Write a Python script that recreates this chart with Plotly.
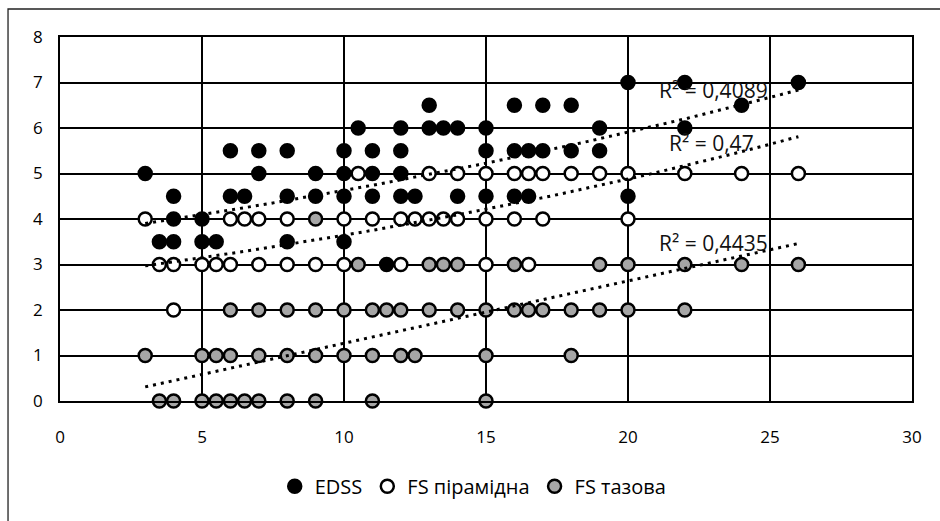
import numpy as np
import plotly.graph_objects as go

# ---- data ----
edss_x = [20, 22, 26,
          13, 16, 17, 18, 24,
          10.5, 12, 13, 13.5, 14, 15, 19, 22,
          6, 7, 8, 10, 11, 12, 15, 16, 16.5, 17, 18, 19,
          3, 7, 9, 10, 11, 12,
          4, 6, 6.5, 8, 9, 10, 11, 12, 12.5, 14, 15, 16, 16.5, 20,
          4, 5,
          3.5, 4, 5, 5.5, 8, 10,
          11.5]
edss_y = [7, 7, 7,
          6.5, 6.5, 6.5, 6.5, 6.5,
          6, 6, 6, 6, 6, 6, 6, 6,
          5.5, 5.5, 5.5, 5.5, 5.5, 5.5, 5.5, 5.5, 5.5, 5.5, 5.5, 5.5,
          5, 5, 5, 5, 5, 5,
          4.5, 4.5, 4.5, 4.5, 4.5, 4.5, 4.5, 4.5, 4.5, 4.5, 4.5, 4.5, 4.5, 4.5,
          4, 4,
          3.5, 3.5, 3.5, 3.5, 3.5, 3.5,
          3]

pyr_x = [10.5, 13, 14, 15, 16, 16.5, 17, 18, 19, 20, 22, 24, 26,
         3, 6, 6.5, 7, 8, 10, 11, 12, 12.5, 13, 13.5, 14, 15, 16, 17, 20,
         3.5, 4, 5, 5.5, 6, 7, 8, 9, 10, 12, 15, 16.5,
         4]
pyr_y = [5] * 13 + [4] * 16 + [3] * 12 + [2]

pelv_x = [9,
          10.5, 13, 13.5, 14, 16, 19, 20, 22, 24, 26,
          6, 7, 8, 9, 10, 11, 11.5, 12, 13, 14, 15, 16, 16.5, 17, 18, 19, 20, 22,
          3, 5, 5.5, 6, 7, 8, 9, 10, 11, 12, 12.5, 15, 18,
          3.5, 4, 5, 5.5, 6, 6.5, 7, 8, 9, 11, 15]
pelv_y = [4] + [3] * 10 + [2] * 18 + [1] * 13 + [0] * 11

series_names = ["EDSS", "FS пірамідна", "FS тазова"]
r2_labels = ["R² = 0,4089", "R² = 0,47", "R² = 0,4435"]
x_ticks = [0, 5, 10, 15, 20, 25, 30]
y_ticks = [0, 1, 2, 3, 4, 5, 6, 7, 8]

# trendline models (Excel trendlines)
edss_trend_exp = [3.625, 0.0244]     # y = a * exp(b x)
pyr_trend_exp = [2.721, 0.02917]     # y = a * exp(b x)
pelv_trend_lin = [-0.101, 0.137]     # y = c + m x

FONT = "Open Sans"
fig = go.Figure()

styles = [("black", "black"), ("white", "black"), ("#A6A6A6", "black")]
data = [(edss_x, edss_y), (pyr_x, pyr_y), (pelv_x, pelv_y)]

for (xs, ys), name, (fc, lc) in zip(data, series_names, styles):
    fig.add_trace(go.Scatter(
        x=xs, y=ys, mode="markers", name=name,
        marker=dict(size=13, color=fc, line=dict(color=lc, width=2.5)),
        cliponaxis=False,
    ))

def trend_curve(xs, model, kind):
    tx = np.linspace(min(xs), max(xs), 60)
    if kind == "exp":
        return tx, model[0] * np.exp(model[1] * tx)
    return tx, model[0] + model[1] * tx

trends = [(edss_x, edss_trend_exp, "exp"),
          (pyr_x, pyr_trend_exp, "exp"),
          (pelv_x, pelv_trend_lin, "lin")]
label_pos = [(23.0, 6.83), (22.95, 5.68), (23.0, 3.48)]
for (xs, model, kind), lab, (lx, ly) in zip(trends, r2_labels, label_pos):
    tx, ty = trend_curve(xs, model, kind)
    fig.add_trace(go.Scatter(
        x=tx, y=ty, mode="lines", showlegend=False, hoverinfo="skip",
        line=dict(color="black", width=3, dash="3px,5px"),
    ))
    fig.add_annotation(x=lx, y=ly, text=lab, showarrow=False,
                       font=dict(family=FONT, size=21, color="#111111"))

# outer chart border (extends beyond the cropped image)
fig.add_shape(type="rect", xref="paper", yref="paper",
              x0=-0.061, x1=1.2, y0=-0.6, y1=1.0769,
              line=dict(color="#222222", width=1.3), layer="below")

axis_common = dict(showgrid=True, gridcolor="black", gridwidth=1.5,
                   zeroline=False, showline=True, linecolor="black",
                   linewidth=1.5, mirror=True, ticks="outside",
                   tickcolor="rgba(0,0,0,0)",
                   tickfont=dict(family=FONT, size=17, color="black"))

fig.update_xaxes(range=[0, 30], tickvals=x_ticks, ticklen=20, **axis_common)
fig.update_yaxes(range=[0, 8], tickvals=y_ticks, ticklen=12, **axis_common)

fig.update_layout(
    width=940, height=521,
    margin=dict(l=60, r=28, t=37, b=120),
    paper_bgcolor="white", plot_bgcolor="white",
    legend=dict(orientation="h", x=0.485, xanchor="center", y=-0.234,
                yanchor="middle", font=dict(family=FONT, size=20, color="black"),
                itemwidth=30, tracegroupgap=0),
    showlegend=True,
)

fig.write_html("out.html")
